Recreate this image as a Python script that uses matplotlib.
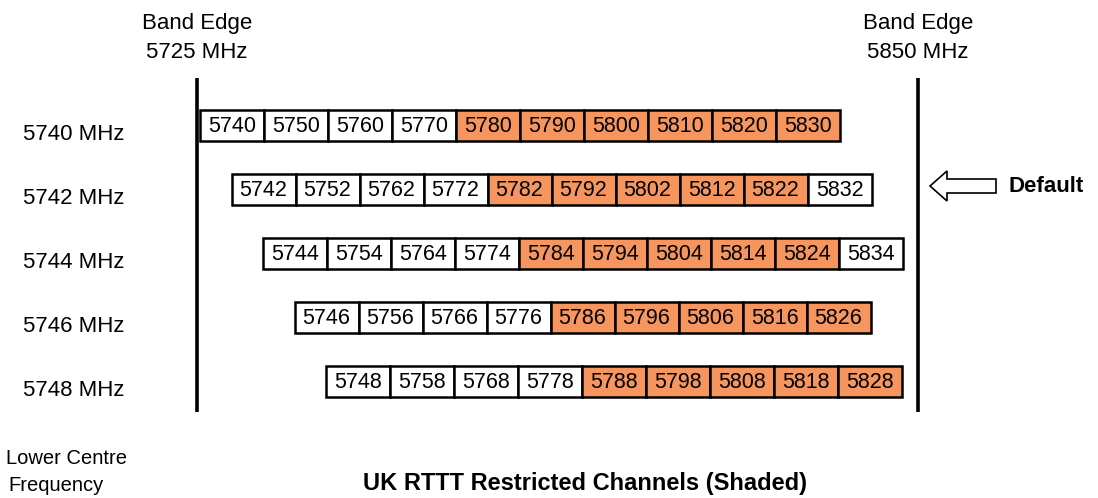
import matplotlib.pyplot as plt
from matplotlib.patches import Rectangle, Polygon

# --- data ---
lower_centres = [5740, 5742, 5744, 5746, 5748]
row_channels = [
    [5740, 5750, 5760, 5770, 5780, 5790, 5800, 5810, 5820, 5830],
    [5742, 5752, 5762, 5772, 5782, 5792, 5802, 5812, 5822, 5832],
    [5744, 5754, 5764, 5774, 5784, 5794, 5804, 5814, 5824, 5834],
    [5746, 5756, 5766, 5776, 5786, 5796, 5806, 5816, 5826],
    [5748, 5758, 5768, 5778, 5788, 5798, 5808, 5818, 5828],
]
restricted_lo = 5780
restricted_hi = 5830
band_edges = [5725, 5850]
default_row = 5742

# --- layout (pixel space, schematic not to scale) ---
box_w = 64
box_h = 31
row_x0 = 200          # left of first box in first row
shift_per_2mhz = 31.5
row_y0 = 125          # centre of first row
row_gap = 64
edge_x = [197, 918]
shade = '#F7955F'
font = ['Liberation Sans', 'DejaVu Sans']

fig = plt.figure(figsize=(10.98, 4.98), dpi=100, facecolor='white')
ax = fig.add_axes([0, 0, 1, 1])
ax.set_xlim(0, 1098)
ax.set_ylim(498, 0)
ax.axis('off')

# band edge lines + labels
for x, f in zip(edge_x, band_edges):
    ax.plot([x, x], [78, 412], color='black', lw=2.6, solid_capstyle='butt')
    ax.text(x, 23, 'Band Edge', ha='center', va='center', fontsize=16, family=font)
    ax.text(x, 52, f'{f} MHz', ha='center', va='center', fontsize=16, family=font)

# channel rows
for i, (lc, chans) in enumerate(zip(lower_centres, row_channels)):
    yc = row_y0 + i * row_gap
    x0 = row_x0 + (lc - lower_centres[0]) / 2 * shift_per_2mhz
    for j, ch in enumerate(chans):
        shaded = restricted_lo <= ch <= restricted_hi
        ax.add_patch(Rectangle((x0 + j * box_w, yc - box_h / 2), box_w, box_h,
                               facecolor=shade if shaded else 'white',
                               edgecolor='black', lw=1.8))
        ax.text(x0 + j * box_w + box_w / 2, yc + 1, str(ch), ha='center', va='center',
                fontsize=15.5, family=font)
    ax.text(74, yc + 9, f'{lc} MHz', ha='center', va='center', fontsize=16, family=font)

    if lc == default_row:
        # hollow arrow pointing at the default row
        ay = yc - 3
        arrow = [(930, ay), (947, ay - 15), (947, ay - 7), (996, ay - 7),
                 (996, ay + 7), (947, ay + 7), (947, ay + 15)]
        ax.add_patch(Polygon(arrow, closed=True, facecolor='white', edgecolor='black', lw=1.2))
        ax.text(1008, ay, 'Default', ha='left', va='center', fontsize=16,
                fontweight='bold', family=font)

ax.text(6, 458, 'Lower Centre', ha='left', va='center', fontsize=14.5, family=font)
ax.text(8, 485, 'Frequency', ha='left', va='center', fontsize=14.5, family=font)
ax.text(585, 483, 'UK RTTT Restricted Channels (Shaded)', ha='center', va='center',
        fontsize=17, fontweight='bold', family=font)

fig.savefig('out.png', dpi=100, facecolor='white')
